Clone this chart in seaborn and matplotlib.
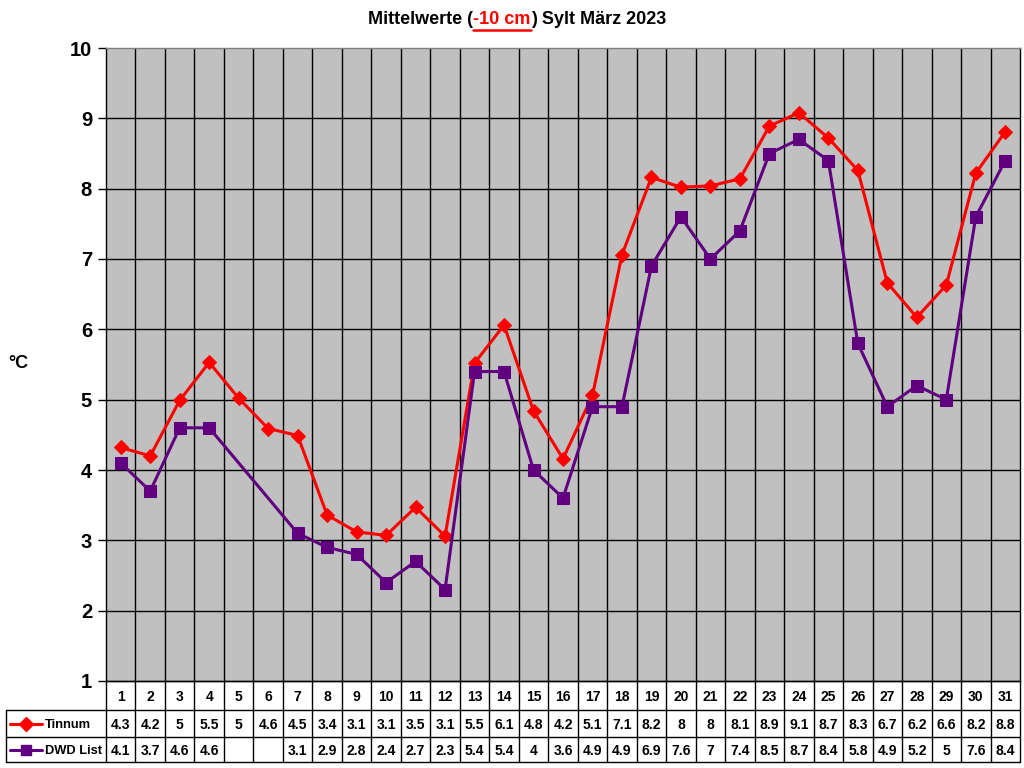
import matplotlib
matplotlib.use("Agg")
import matplotlib.pyplot as plt
from matplotlib.lines import Line2D
import numpy as np
import pandas as pd
import seaborn as sns

days = list(range(1, 32))
tinnum = [4.32, 4.20, 4.99, 5.53, 5.02, 4.59, 4.49, 3.36, 3.12, 3.07, 3.47, 3.06,
          5.52, 6.06, 4.84, 4.16, 5.06, 7.06, 8.16, 8.02, 8.04, 8.14, 8.89, 9.08,
          8.72, 8.26, 6.66, 6.17, 6.63, 8.22, 8.81]
dwd_list = [4.1, 3.7, 4.6, 4.6, np.nan, np.nan, 3.1, 2.9, 2.8, 2.4, 2.7, 2.3,
            5.4, 5.4, 4.0, 3.6, 4.9, 4.9, 6.9, 7.6, 7.0, 7.4, 8.5, 8.7,
            8.4, 5.8, 4.9, 5.2, 5.0, 7.6, 8.4]
series_names = ["Tinnum", "DWD List"]
series_colors = ["#FF0000", "#600080"]
series_markers = ["D", "s"]
y_ticks = list(range(1, 11))

sns.set_theme(style="white")
plt.rcParams["font.family"] = ["Liberation Sans", "DejaVu Sans"]
plt.rcParams["font.weight"] = "bold"
plt.rcParams["text.color"] = "black"
plt.rcParams["ytick.color"] = "black"
plt.rcParams["ytick.labelcolor"] = "black"

W, H = 1024, 768
fig = plt.figure(figsize=(W / 100, H / 100), dpi=100)
fig.patch.set_facecolor("white")

# pixel layout
px_left, px_right = 106, 1020
px_top, px_bottom = 48, 681
lab_left = 6
row_edges = [681, 710, 737, 762]
col_w = (px_right - px_left) / len(days)


def fig_rect(x0, y0, x1, y1):
    return [x0 / W, 1 - y1 / H, (x1 - x0) / W, (y1 - y0) / H]


ax = fig.add_axes(fig_rect(px_left, px_top, px_right, px_bottom))
ax.set_facecolor("#C0C0C0")

df = pd.DataFrame({"day": days, "Tinnum": tinnum, "DWD List": dwd_list})
for name, color, marker in zip(series_names, series_colors, series_markers):
    sub = df[["day", name]].dropna()
    sns.lineplot(data=sub, x="day", y=name, ax=ax, color=color, marker=marker,
                 markersize=7.5 if marker == "D" else 8, markeredgecolor=color,
                 linewidth=2.2, zorder=3)

ax.set_xlim(0.5, len(days) + 0.5)
ax.set_ylim(1, 10)
ax.set_xticks([])
ax.set_yticks(y_ticks)
ax.set_yticklabels([str(t) for t in y_ticks], fontsize=14.5, fontweight="bold", color="black")
ax.tick_params(axis="y", direction="out", length=6, width=1, color="black", pad=4, left=True)
for t in y_ticks[1:-1]:
    ax.axhline(t, color="black", linewidth=1, zorder=1)
for d in days[:-1]:
    ax.axvline(d + 0.5, color="black", linewidth=1, zorder=1)
for s in ax.spines.values():
    s.set_color("black")
    s.set_linewidth(1)
ax.spines["top"].set_color("#808080")
ax.set_xlabel("")
ax.set_ylabel("")

fig.text(8 / W, 1 - 364 / H, "°C", fontsize=13, fontweight="bold", va="center", ha="left")

# data table
tax = fig.add_axes(fig_rect(lab_left, row_edges[0], px_right, row_edges[-1]))
tax.set_xlim(0, px_right - lab_left)
tax.set_ylim(row_edges[-1], row_edges[0])
tax.axis("off")

x0 = px_left - lab_left
x1 = px_right - lab_left
lk = dict(color="black", linewidth=1, clip_on=False)
tax.plot([x0, x1], [row_edges[0], row_edges[0]], **lk)
for y in row_edges[1:]:
    tax.plot([0, x1], [y, y], **lk)
tax.plot([0, 0], [row_edges[1], row_edges[-1]], **lk)
for i in range(len(days) + 1):
    xx = x0 + i * col_w
    tax.plot([xx, xx], [row_edges[0], row_edges[-1]], **lk)


def fmt(v):
    if pd.isna(v):
        return ""
    s = f"{round(v, 1):.1f}"
    return s[:-2] if s.endswith(".0") else s


for i, d in enumerate(days):
    cx = x0 + (i + 0.5) * col_w
    tax.text(cx, (row_edges[0] + row_edges[1]) / 2 + 1, str(d), ha="center", va="center",
             fontsize=10, fontweight="bold")
    for r, vals in enumerate([tinnum, dwd_list]):
        tax.text(cx, (row_edges[r + 1] + row_edges[r + 2]) / 2 + 1, fmt(vals[i]),
                 ha="center", va="center", fontsize=10, fontweight="bold")

for r, (name, color, marker) in enumerate(zip(series_names, series_colors, series_markers)):
    yc = (row_edges[r + 1] + row_edges[r + 2]) / 2
    tax.add_line(Line2D([4, 36], [yc, yc], color=color, linewidth=2.2, clip_on=False))
    tax.add_line(Line2D([20], [yc], color=color, marker=marker, markersize=7 if marker == "D" else 7.5,
                        markeredgecolor=color, clip_on=False))
    tax.text(39, yc + 1, name, ha="left", va="center", fontsize=9.3, fontweight="bold")

# title with red underlined part
renderer = fig.canvas.get_renderer()
parts = [("Mittelwerte (", "black"), ("-10 cm", "#FF0000"), (") Sylt März 2023", "black")]
ty = 1 - 20 / H
texts = []
for s, c in parts:
    texts.append(fig.text(0, ty, s, color=c, fontsize=13, fontweight="bold", va="center", ha="left"))
widths = [t.get_window_extent(renderer).width for t in texts]
start = 517 - sum(widths) / 2
xpos = start
for t, w in zip(texts, widths):
    t.set_x(xpos / W)
    if t.get_color() == "#FF0000":
        fig.add_artist(Line2D([xpos / W, (xpos + w) / W], [1 - 30 / H, 1 - 30 / H],
                              color="#FF0000", linewidth=1.8))
    xpos += w

fig.savefig("out.png", dpi=100)
